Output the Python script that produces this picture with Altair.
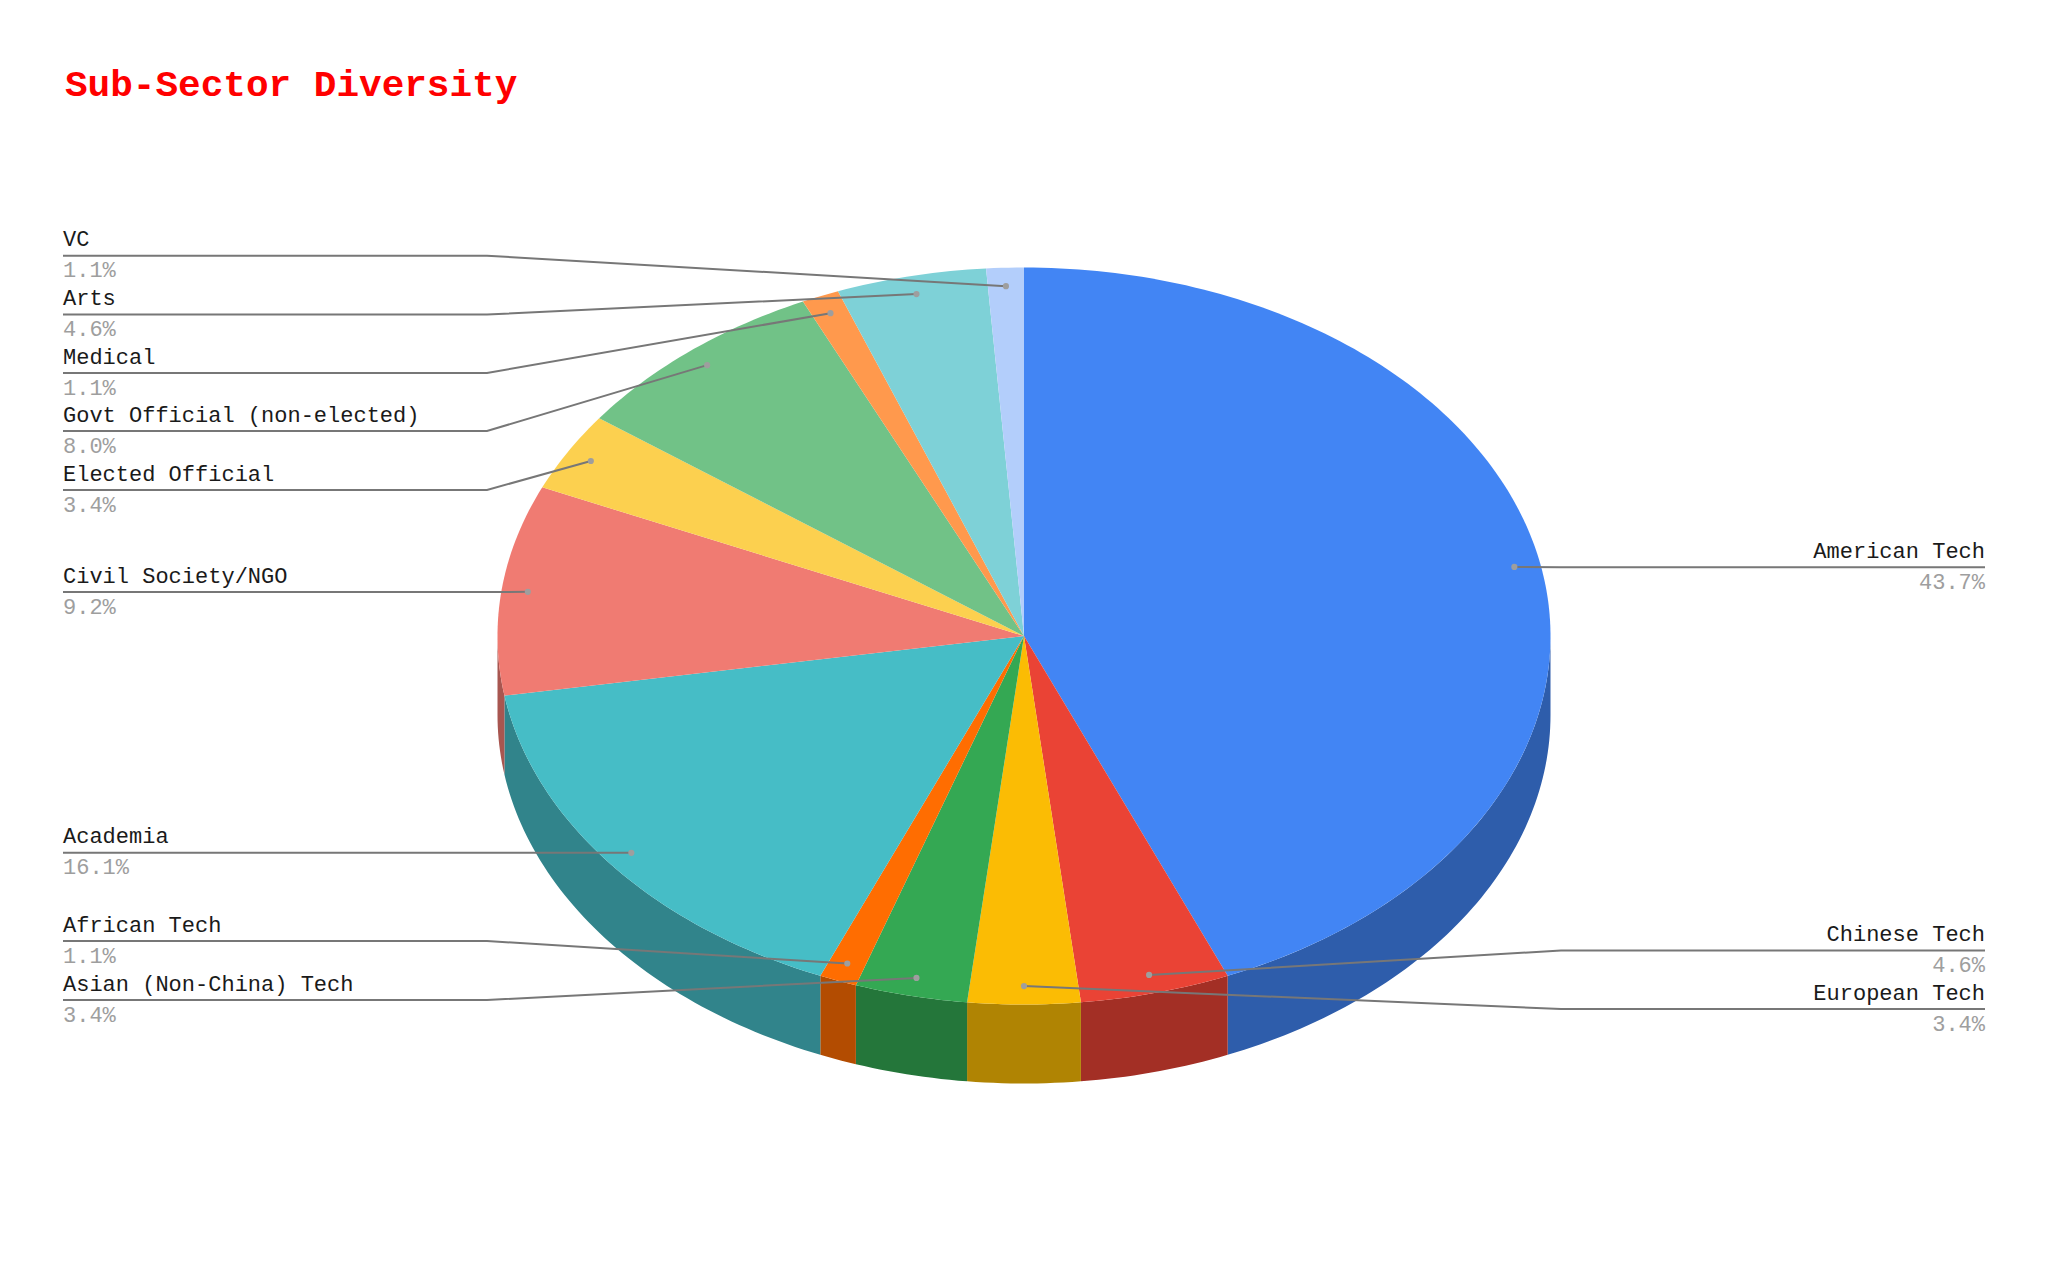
import math
import altair as alt
import pandas as pd

names = ["American Tech", "Chinese Tech", "European Tech", "Asian (Non-China) Tech", "African Tech",
         "Academia", "Civil Society/NGO", "Elected Official", "Govt Official (non-elected)",
         "Medical", "Arts", "VC"]
counts = [38, 4, 3, 3, 1, 14, 8, 3, 7, 1, 4, 1]
pct_labels = ["43.7%", "4.6%", "3.4%", "3.4%", "1.1%", "16.1%", "9.2%", "3.4%", "8.0%", "1.1%", "4.6%", "1.1%"]
top_colors = ["#4285f4", "#ea4335", "#fbbc04", "#34a853", "#ff6d01", "#46bdc6",
              "#f07b72", "#fcd04f", "#71c287", "#ff994d", "#7ed1d7", "#b3cefb"]
side_colors = ["#2e5dab", "#a32f25", "#b08403", "#24763a", "#b34c01", "#31848b",
               "#a85650", "#b09237", "#4f885f", "#b36b36", "#589296", "#7d90b0"]
label_y = [567.3, 950.5, 1009, 1000, 941, 852.8, 592, 490, 431, 373, 314.5, 255.7]
label_side = ["right", "right", "right", "left", "left", "left", "left", "left", "left", "left", "left", "left"]

CX, CY, RX, RY, DEPTH = 1024, 636, 526.5, 368.5, 79
ANCHOR = 0.95
LEFT_X, RIGHT_X, LEFT_ELBOW, RIGHT_ELBOW = 63, 1985, 487, 1561


def ell(deg, k=1.0, dy=0.0):
    a = math.radians(deg)
    return CX + RX * k * math.sin(a), CY - RY * k * math.cos(a) + dy


total = sum(counts)
tops, sides, leaders, dots, texts = [], [], [], [], []
cum = 0
for i, name in enumerate(names):
    a0 = cum / total * 360
    cum += counts[i]
    a1 = cum / total * 360
    n = max(2, int(a1 - a0) + 2)
    pts = [(CX, CY)] + [ell(a0 + (a1 - a0) * j / (n - 1)) for j in range(n)]
    for o, (x, y) in enumerate(pts):
        tops.append(dict(name=name, o=o, x=x, y=y, c=top_colors[i]))
    s0, s1 = max(a0, 90), min(a1, 270)
    if s1 > s0:
        m = max(2, int(s1 - s0) + 2)
        arc = [s0 + (s1 - s0) * j / (m - 1) for j in range(m)]
        pts = [ell(t) for t in arc] + [ell(t, dy=DEPTH) for t in reversed(arc)]
        for o, (x, y) in enumerate(pts):
            sides.append(dict(name=name, o=o, x=x, y=y, c=side_colors[i]))
    mid = (a0 + a1) / 2
    ax, ay = ell(mid, ANCHOR)
    right = label_side[i] == "right"
    edge, elbow = (RIGHT_X, RIGHT_ELBOW) if right else (LEFT_X, LEFT_ELBOW)
    for o, (x, y) in enumerate([(edge, label_y[i]), (elbow, label_y[i]), (ax, ay)]):
        leaders.append(dict(name=name, o=o, x=x, y=y))
    dots.append(dict(name=name, x=ax, y=ay))
    texts.append(dict(name=name, pct=pct_labels[i], x=edge, yn=label_y[i] - 9.5, yp=label_y[i] + 21.5, side=label_side[i]))

xs = alt.Scale(domain=[8, 2040], nice=False, zero=False)
ys = alt.Scale(domain=[1257, 8], nice=False, zero=False)
X = alt.X("x:Q", scale=xs, axis=None)
Y = alt.Y("y:Q", scale=ys, axis=None)


def polys(rows):
    return alt.Chart(pd.DataFrame(rows)).mark_line(strokeWidth=0, interpolate="linear").encode(
        x=X, y=Y, detail="name:N", order="o:Q", fill=alt.Fill("c:N", scale=None))


leader_layer = alt.Chart(pd.DataFrame(leaders)).mark_line(color="#777777", strokeWidth=2).encode(
    x=X, y=Y, detail="name:N", order="o:Q")
dot_layer = alt.Chart(pd.DataFrame(dots)).mark_point(filled=True, color="#9e9e9e", size=38, opacity=1).encode(x=X, y=Y)

tdf = pd.DataFrame(texts)
layers = [polys(sides), polys(tops), leader_layer, dot_layer]
for side in ["left", "right"]:
    d = tdf[tdf.side == side]
    layers.append(alt.Chart(d).mark_text(font="Liberation Mono", fontSize=22, align=side, baseline="alphabetic", color="#1a1a1a").encode(
        x=X, y=alt.Y("yn:Q", scale=ys, axis=None), text="name:N"))
    layers.append(alt.Chart(d).mark_text(font="Liberation Mono", fontSize=22, align=side, baseline="alphabetic", color="#9e9e9e").encode(
        x=X, y=alt.Y("yp:Q", scale=ys, axis=None), text="pct:N"))

chart = alt.layer(*layers).properties(
    width=2032, height=1249, padding=0, background="white",
    autosize=alt.AutoSizeParams(type="none"),
    title=alt.TitleParams("Sub-Sector Diversity", anchor="start", frame="group", offset=0, dx=57, dy=126,
                          baseline="alphabetic", font="Liberation Mono", fontSize=37.7, fontWeight="bold", color="#ff0000"),
).configure_view(stroke=None)

chart.save("out.html", embed_options={"renderer": "svg", "actions": False})
